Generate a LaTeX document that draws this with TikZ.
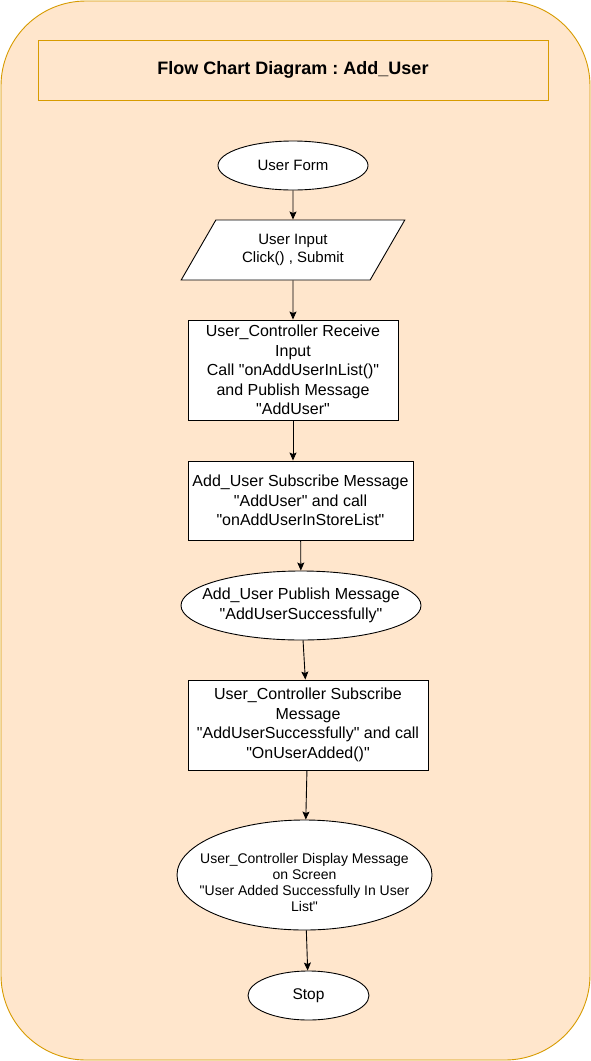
\documentclass[tikz,border=0pt]{standalone}
\usepackage{xcolor}
\usepackage{fontspec}
\setmainfont{Liberation Sans}[Ligatures=TeXOff]
\usepackage{tikz}
\usetikzlibrary{shapes.geometric,arrows.meta}
\frenchspacing

\definecolor{peach}{HTML}{FFE6CC}
\definecolor{amber}{HTML}{D79B00}

\begin{document}
\begin{tikzpicture}[x=1pt,y=-1pt,line width=0.9pt]
\tikzstyle{box}=
[
	draw, rectangle, fill=white, align=center,
	inner sep=0pt, font=\fontsize{16}{19.5}\selectfont
]
\tikzstyle{oval}=
[
	draw, ellipse, fill=white, align=center,
	inner xsep=-20pt, inner ysep=-15pt, font=\fontsize{16}{19.5}\selectfont
]
\tikzstyle{slant}=
[
	draw, trapezium, trapezium left angle=54, trapezium right angle=126,
	trapezium stretches=true,
	fill=white, align=center, inner sep=0pt, font=\fontsize{15}{18}\selectfont
]
\tikzstyle{flow}=[draw, -{Stealth[length=8pt,width=7pt,inset=1.5pt]}]

\useasboundingbox (0,0) rectangle (591,1061);
\draw[amber, fill=peach, rounded corners=85pt] (1,1) rectangle (590,1060);

\node[draw=amber, fill=peach, minimum width=510, minimum height=60,
	font=\fontsize{18}{21}\selectfont\bfseries] (title) at (293,70)
	{Flow Chart Diagram : Add\_User};

\node[oval, minimum width=150, minimum height=49, font=\fontsize{15}{18}\selectfont]
	(form) at (293,165.5) {User Form};
\node[slant, minimum width=224, minimum height=60] (input) at (293,250)
	{User Input\\Click() , Submit};
\node[box, minimum width=210, minimum height=100] (receive) at (293,370)
	{User\_Controller Receive\\Input\\Call "onAddUserInList()"\\and Publish Message\\"AddUser"};
\node[box, minimum width=225, minimum height=79] (subscribe) at (300.5,500.5)
	{Add\_User Subscribe Message\\"AddUser" and call\\"onAddUserInStoreList"};
\node[oval, minimum width=240, minimum height=69] (publish) at (301,605.5)
	{Add\_User Publish Message\\"AddUserSuccessfully"};
\node[box, minimum width=240, minimum height=90] (added) at (308,725)
	{User\_Controller Subscribe\\Message\\"AddUserSuccessfully" and call\\"OnUserAdded()"};
\node[oval, minimum width=255, minimum height=110, font=\fontsize{14}{16}\selectfont]
	(display) at (304.5,875)
	{\rule{0pt}{26pt}User\_Controller Display Message\\on Screen\\"User Added Successfully In User\\List"};
\node[oval, minimum width=121, minimum height=49, font=\fontsize{15.5}{18}\selectfont]
	(stop) at (308.5,995.5) {Stop};

\path[flow] (form) -- (input);
\path[flow] (input) -- (receive);
\path[flow] (receive) -- (receive |- subscribe.north);
\path[flow] (subscribe) -- (publish);
\path[flow] (publish) -- (added);
\path[flow] (added) -- (display);
\path[flow] (display) -- (stop);
\end{tikzpicture}
\end{document}
